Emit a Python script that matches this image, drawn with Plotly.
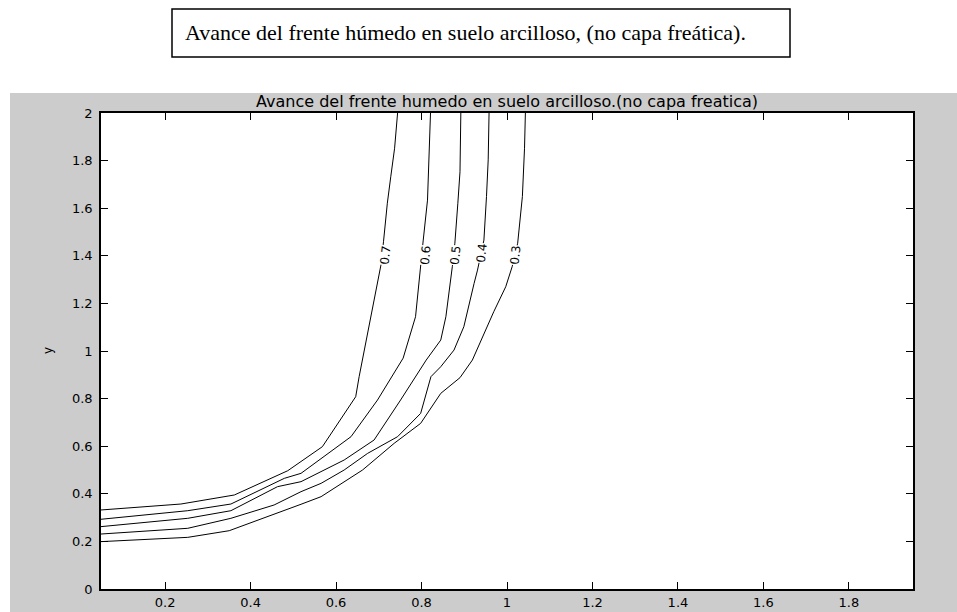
import plotly.graph_objects as go

# ---- data ----
levels = ["0.7", "0.6", "0.5", "0.4", "0.3"]

x_07 = [0.744, 0.737, 0.728, 0.720, 0.711, 0.705, 0.654, 0.646, 0.568, 0.487, 0.362, 0.237, 0.05]
y_07 = [2.000, 1.852, 1.732, 1.621, 1.459, 1.361, 0.892, 0.808, 0.598, 0.497, 0.395, 0.357, 0.332]

x_06 = [0.821, 0.818, 0.814, 0.804, 0.798, 0.786, 0.757, 0.697, 0.635, 0.565, 0.518, 0.479, 0.354, 0.253, 0.05]
y_06 = [2.000, 1.852, 1.634, 1.466, 1.361, 1.144, 0.970, 0.794, 0.640, 0.550, 0.486, 0.465, 0.357, 0.329, 0.293]

x_05 = [0.892, 0.890, 0.885, 0.878, 0.872, 0.857, 0.845, 0.811, 0.751, 0.689, 0.619, 0.572, 0.518, 0.463, 0.354, 0.253, 0.05]
y_05 = [2.000, 1.753, 1.621, 1.453, 1.354, 1.144, 1.046, 0.962, 0.794, 0.626, 0.542, 0.500, 0.451, 0.430, 0.329, 0.297, 0.262]

x_04 = [0.958, 0.956, 0.952, 0.946, 0.931, 0.923, 0.899, 0.876, 0.845, 0.822, 0.798, 0.744, 0.674, 0.619, 0.565, 0.518, 0.455, 0.354, 0.253, 0.05]
y_04 = [2.000, 1.803, 1.649, 1.466, 1.340, 1.284, 1.102, 1.004, 0.934, 0.892, 0.738, 0.640, 0.570, 0.500, 0.444, 0.409, 0.353, 0.297, 0.255, 0.231]

x_03 = [1.043, 1.041, 1.036, 1.025, 1.012, 0.997, 0.969, 0.954, 0.919, 0.890, 0.845, 0.798, 0.736, 0.662, 0.565, 0.518, 0.350, 0.253, 0.05]
y_03 = [2.000, 1.852, 1.649, 1.453, 1.354, 1.270, 1.165, 1.102, 0.962, 0.888, 0.822, 0.696, 0.612, 0.500, 0.388, 0.356, 0.245, 0.217, 0.199]

label_x = [0.716, 0.810, 0.880, 0.942, 1.020]
label_y = [1.403, 1.403, 1.403, 1.410, 1.403]

x_ticks = [0.2, 0.4, 0.6, 0.8, 1.0, 1.2, 1.4, 1.6, 1.8]
x_tick_text = ["0.2", "0.4", "0.6", "0.8", "1", "1.2", "1.4", "1.6", "1.8"]
y_ticks = [0, 0.2, 0.4, 0.6, 0.8, 1.0, 1.2, 1.4, 1.6, 1.8, 2.0]
y_tick_text = ["0", "0.2", "0.4", "0.6", "0.8", "1", "1.2", "1.4", "1.6", "1.8", "2"]

main_title = "Avance del frente húmedo en suelo arcilloso, (no capa freática)."
plot_title = "Avance del frente humedo en suelo arcilloso.(no capa freatica)"

series_x = [x_07, x_06, x_05, x_04, x_03]
series_y = [y_07, y_06, y_05, y_04, y_03]

# ---- figure ----
W, H = 957, 612
L, R, T, B = 101, 44, 113, 23
pw, ph = W - L - R, H - T - B


def px(xpix):
    return (xpix - L) / pw


def py(ypix):
    return (H - B - ypix) / ph


fig = go.Figure()
for lev, xs, ys in zip(levels, series_x, series_y):
    fig.add_trace(go.Scatter(x=xs, y=ys, mode="lines", name=lev,
                             line=dict(color="black", width=1),
                             showlegend=False, hoverinfo="skip"))

annotations = []
for lev, lx, ly in zip(levels, label_x, label_y):
    annotations.append(dict(x=lx, y=ly, xref="x", yref="y", text=lev,
                            showarrow=False, textangle=-84,
                            font=dict(family="DejaVu Sans", size=12, color="black"),
                            bgcolor="white", borderpad=0))

annotations += [
    dict(x=px(183), y=py(33), xref="paper", yref="paper", text=main_title,
         showarrow=False, xanchor="left", yanchor="middle",
         font=dict(family="Liberation Serif", size=22, color="black")),
    dict(x=0.5, y=py(101), xref="paper", yref="paper", text=plot_title,
         showarrow=False, xanchor="center", yanchor="middle",
         font=dict(family="DejaVu Sans", size=16, color="black")),
    dict(x=px(48), y=0.5, xref="paper", yref="paper", text="y",
         showarrow=False, textangle=-90, xanchor="center", yanchor="middle",
         font=dict(family="DejaVu Sans", size=12, color="black")),
    dict(x=0.5, y=py(607), xref="paper", yref="paper", text="x",
         showarrow=False, xanchor="center", yanchor="top",
         font=dict(family="DejaVu Sans", size=12, color="black")),
]

shapes = [
    # white strip above the grey figure area
    dict(type="rect", xref="paper", yref="paper", x0=px(-5), x1=px(W + 5),
         y0=py(93), y1=py(-5), fillcolor="white", line=dict(width=0), layer="below"),
    # white strip left of the grey area
    dict(type="rect", xref="paper", yref="paper", x0=px(-5), x1=px(10),
         y0=py(H + 5), y1=py(93), fillcolor="white", line=dict(width=0), layer="below"),
    # framed text box
    dict(type="rect", xref="paper", yref="paper", x0=px(172), x1=px(790),
         y0=py(57), y1=py(9), fillcolor="white",
         line=dict(color="black", width=1.5), layer="above"),
]

axis_common = dict(showline=True, linecolor="black", linewidth=1.5, mirror="ticks",
                   ticks="inside", ticklen=7, tickcolor="black", tickwidth=1,
                   showgrid=False, zeroline=False,
                   tickfont=dict(family="DejaVu Sans", size=13, color="black"))

fig.update_layout(
    width=W, height=H,
    margin=dict(l=L, r=R, t=T, b=B, autoexpand=False),
    paper_bgcolor="#cccccc",
    plot_bgcolor="white",
    xaxis=dict(range=[0.05, 1.95], tickvals=x_ticks, ticktext=x_tick_text,
               ticklabelstandoff=1, **axis_common),
    yaxis=dict(range=[0, 2], tickvals=y_ticks, ticktext=y_tick_text,
               ticklabelstandoff=4, **axis_common),
    annotations=annotations,
    shapes=shapes,
    showlegend=False,
)

fig.write_html("out.html", config={"displayModeBar": False})
